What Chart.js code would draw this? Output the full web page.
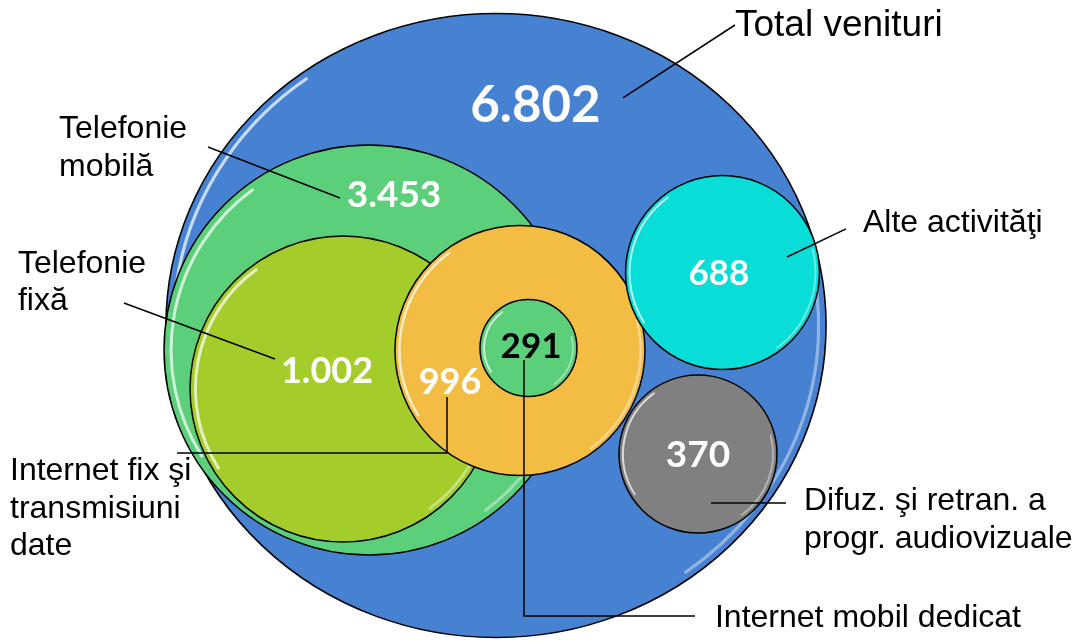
<!DOCTYPE html>
<html>
<head>
<meta charset="utf-8">
<script src="https://cdn.jsdelivr.net/npm/chart.js@4.4.1/dist/chart.umd.min.js"></script>
<style>
  html, body { margin: 0; padding: 0; background: #fff; }
  #wrap { width: 1075px; height: 641px; position: relative; }
</style>
</head>
<body>
<div id="wrap"><canvas id="bubbleChart"></canvas></div>
<script>
const categories = [
  "Total venituri",
  "Telefonie\nmobilă",
  "Telefonie\nfixă",
  "Internet fix şi\ntransmisiuni\ndate",
  "Internet mobil dedicat",
  "Alte activităţi",
  "Difuz. şi retran. a\nprogr. audiovizuale"
];
const values = [6802, 3453, 1002, 996, 291, 688, 370];

// layout, in axis units (x: 0-100, y: 0-60)
const centreX = [46.14, 34.33, 31.91, 48.37, 49.16, 67.21, 64.93];
const centreY = [29.53, 27.24, 23.59, 27.19, 27.43, 34.49, 17.50];
const sizes = [29.02, 19.07, 14.23, 11.63, 4.51, 9.02, 7.35];

const valueX = [49.81, 36.65, 30.42, 41.86, 49.40, 66.88, 64.93];
const valueY = [50.31, 41.84, 25.37, 24.29, 27.71, 34.49, 17.55];
const nameX = [68.37, 5.49, 1.67, 0.93, 66.51, 80.28, 74.79];
const nameY = [56.63, 47.08, 34.45, 15.07, 1.31, 38.28, 12.26];
const leaders = [
  [[57.95, 50.83], [68.37, 57.66]],
  [[19.35, 46.24], [31.63, 41.47]],
  [[11.53, 31.64], [25.58, 26.40]],
  [[41.58, 22.84], [41.58, 17.60], [16.47, 17.60]],
  [[48.74, 26.30], [48.74, 2.34], [64.65, 2.34]],
  [[73.21, 35.94], [78.70, 38.57]],
  [[66.14, 12.92], [73.12, 12.92]]
];

// styles
const colours = ["#4682D1", "#5BCF79", "#A4CD2B", "#F2BD42", "#5BCF79", "#08DDD8", "#808080"];
const stretchX = [1.058, 1, 1, 1, 1, 1, 1];
const valueFont = [51, 37, 36, 36, 35, 35, 37];
const valueColour = ["#fff", "#fff", "#fff", "#fff", "#000", "#fff", "#fff"];
const nameFont = [37, 32, 32, 32, 32, 32, 32];

function formatValue(v) {
  return String(v).replace(/\B(?=(\d{3})+(?!\d))/g, ".");
}

const decorations = {
  id: "decorations",
  beforeDatasetDraw(chart, args) {
    const el = args.meta.data[0];
    const c = chart.ctx;
    c.save();
    if (el && stretchX[args.index] !== 1) {
      c.translate(el.x, el.y);
      c.scale(stretchX[args.index], 1);
      c.translate(-el.x, -el.y);
    }
  },
  afterDatasetDraw(chart, args) {
    // glossy inner rims, drawn right after each bubble
    const c = chart.ctx;
    const el = args.meta.data[0];
    const r = el && el.options ? el.options.radius : 0;
    const inset = Math.max(4, Math.min(7, r * 0.035));
    if (r > inset + 2) {
      c.lineCap = "round";
      c.lineWidth = Math.min(3, Math.max(2, r * 0.02));
      c.strokeStyle = "rgba(255,255,255,0.7)";
      c.beginPath();
      c.arc(el.x, el.y, r - inset, Math.PI * 0.82, Math.PI * 1.3);
      c.stroke();
      c.strokeStyle = "rgba(255,255,255,0.4)";
      c.beginPath();
      c.arc(el.x, el.y, r - inset, -Math.PI * 0.08, Math.PI * 0.3);
      c.stroke();
    }
    c.restore();
  },
  afterDatasetsDraw(chart) {
    const c = chart.ctx;
    const sx = chart.scales.x;
    const sy = chart.scales.y;
    c.save();
    c.strokeStyle = "#000";
    c.lineWidth = 1.5;
    leaders.forEach((pts) => {
      c.beginPath();
      pts.forEach(([x, y], k) => {
        const px = sx.getPixelForValue(x);
        const py = sy.getPixelForValue(y);
        if (k === 0) c.moveTo(px, py);
        else c.lineTo(px, py);
      });
      c.stroke();
    });

    c.textBaseline = "alphabetic";
    values.forEach((v, i) => {
      c.font = `bold ${valueFont[i]}px Lato, "Open Sans", sans-serif`;
      c.fillStyle = valueColour[i];
      c.textAlign = "center";
      c.fillText(
        formatValue(v),
        sx.getPixelForValue(valueX[i]),
        sy.getPixelForValue(valueY[i]) + valueFont[i] * 0.36
      );
    });

    c.fillStyle = "#000";
    c.textAlign = "left";
    categories.forEach((name, i) => {
      c.font = `${nameFont[i]}px "Liberation Sans", Arial, sans-serif`;
      name.split("\n").forEach((line, k) => {
        c.fillText(
          line,
          sx.getPixelForValue(nameX[i]),
          sy.getPixelForValue(nameY[i]) + k * 37.5
        );
      });
    });
    c.restore();
  }
};

const ctx = document.getElementById("bubbleChart").getContext("2d");
const datasets = categories.map((name, i) => ({
  label: name,
  data: [{ x: centreX[i], y: centreY[i], r: 1 }],
  backgroundColor: colours[i],
  borderColor: "#000",
  borderWidth: 1.5,
  hoverBorderWidth: 1.5,
  order: categories.length - i,
  clip: false
}));

const chart = new Chart(ctx, {
  type: "bubble",
  data: { datasets },
  options: {
    responsive: true,
    maintainAspectRatio: false,
    animation: false,
    events: [],
    layout: { padding: 0, autoPadding: false },
    scales: {
      x: { type: "linear", min: 0, max: 100, display: false },
      y: { type: "linear", min: 0, max: 60, display: false }
    },
    plugins: {
      legend: { display: false },
      tooltip: { enabled: false }
    }
  },
  plugins: [decorations]
});

// bubble radius is in pixels: size it from the x scale once laid out
const sx = chart.scales.x;
chart.data.datasets.forEach((d, i) => {
  d.data[0].r = sx.getPixelForValue(sizes[i]) - sx.getPixelForValue(0);
});
chart.update();
</script>
</body>
</html>
